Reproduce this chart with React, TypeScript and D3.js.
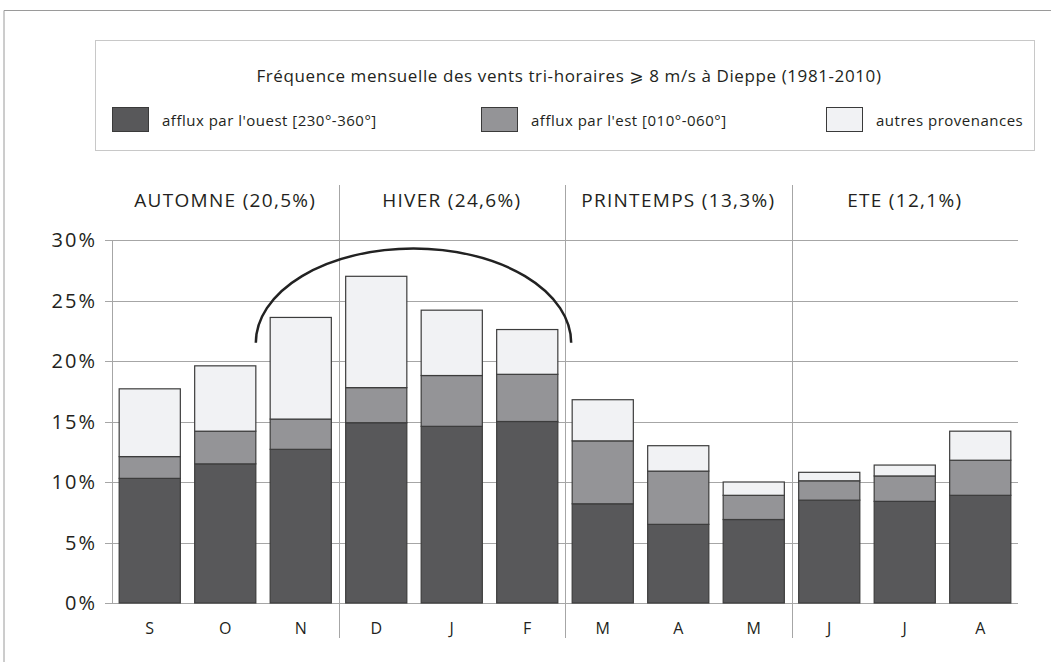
import React from 'react';
import * as d3 from 'd3';

const months = ['S', 'O', 'N', 'D', 'J', 'F', 'M', 'A', 'M', 'J', 'J', 'A'];
const ouest = [10.3, 11.5, 12.7, 14.9, 14.6, 15.0, 8.2, 6.5, 6.9, 8.5, 8.4, 8.9];
const est = [1.8, 2.7, 2.5, 2.9, 4.2, 3.9, 5.2, 4.4, 2.0, 1.6, 2.1, 2.9];
const autres = [5.6, 5.4, 8.4, 9.2, 5.4, 3.7, 3.4, 2.1, 1.1, 0.7, 0.9, 2.4];

const seasonNames = ['AUTOMNE', 'HIVER', 'PRINTEMPS', 'ETE'];
const seasonShares = ['20,5%', '24,6%', '13,3%', '12,1%'];

const yTicks = [0, 5, 10, 15, 20, 25, 30];

const seriesKeys = ['ouest', 'est', 'autres'];
const seriesLabels = ["afflux par l'ouest [230°-360°]", "afflux par l'est [010°-060°]", 'autres provenances'];
const seriesColors = ['#58585a', '#949497', '#f1f2f4'];

const W = 1051;
const H = 662;
const FONT = "'Open Sans', 'DejaVu Sans', sans-serif";

export default function App() {
	const x = d3.scaleBand<number>()
		.domain(d3.range(months.length))
		.range([112, 1018])
		.paddingInner(0.19)
		.paddingOuter(0.095);
	const y = d3.scaleLinear().domain([0, 30]).range([603, 240]);

	const rows = months.map((m, i) => ({ i, ouest: ouest[i], est: est[i], autres: autres[i] }));
	const stacked = d3.stack<any>().keys(seriesKeys)(rows);

	const step = x.step();
	const left = x.range()[0];
	const right = x.range()[1];
	const dividers = [1, 2, 3].map(k => left + k * 3 * step);

	// arc au-dessus de N-D-J-F
	const ax0 = (x(1) as number) + x.bandwidth();
	const ax1 = (x(6) as number) - 1;
	const ayBase = y(21.5);
	const ry = y(21.5) - y(29.3);
	const rx = (ax1 - ax0) / 2;
	const arcPath = `M${ax0},${ayBase} A${rx},${ry} 0 0 1 ${ax1},${ayBase}`;

	const legendX = [112, 481, 826];

	return (
		<svg width={W} height={H} style={{ position: 'absolute', left: 0, top: 0, background: '#fff' }} fontFamily={FONT}>
			{/* cadre */}
			<path d={`M4,${H} V10.5 H${W}`} fill="none" stroke="#9a9a9a" strokeWidth={1} />

			{/* légende */}
			<rect x={95.5} y={40.5} width={939} height={110} fill="#fff" stroke="#c8c8c8" strokeWidth={1} />
			<text x={569} y={82} textAnchor="middle" fontSize={17} letterSpacing={0.6} fill="#231f20">
				Fréquence mensuelle des vents tri-horaires ⩾ 8 m/s à Dieppe (1981-2010)
			</text>
			{seriesLabels.map((lab, k) => (
				<g key={lab}>
					<rect x={legendX[k] + 0.5} y={107.5} width={36} height={24} fill={seriesColors[k]} stroke="#3a3a3a" strokeWidth={1} />
					<text x={legendX[k] + 50} y={126} fontSize={15} letterSpacing={0.5} fill="#231f20">{lab}</text>
				</g>
			))}

			{/* grille */}
			{yTicks.map(t => (
				<g key={t}>
					<line x1={105} x2={right} y1={Math.round(y(t)) + 0.5} y2={Math.round(y(t)) + 0.5} stroke="#a6a6a6" strokeWidth={1} />
					<text x={97} y={y(t) + 7} textAnchor="end" fontSize={20} letterSpacing={2} fill="#231f20">{t}%</text>
				</g>
			))}
			<line x1={112.5} x2={112.5} y1={y(30)} y2={y(0)} stroke="#a6a6a6" strokeWidth={1} />

			{/* séparateurs de saisons */}
			{dividers.map(d => (
				<line key={d} x1={Math.round(d) + 0.5} x2={Math.round(d) + 0.5} y1={185} y2={638} stroke="#a6a6a6" strokeWidth={1} />
			))}
			{seasonNames.map((s, k) => (
				<text key={s} x={left + (k * 3 + 1.5) * step} y={207} textAnchor="middle" fontSize={19} letterSpacing={1.3} fill="#231f20">
					{`${s} (${seasonShares[k]})`}
				</text>
			))}

			{/* barres empilées */}
			{stacked.map((layer, k) => (
				<g key={layer.key} fill={seriesColors[k]} stroke="#3c3c3c" strokeWidth={1.2}>
					{layer.map((d, i) => (
						<rect key={i} x={x(i)} y={y(d[1])} width={x.bandwidth()} height={y(d[0]) - y(d[1])} />
					))}
				</g>
			))}

			{/* mois */}
			{months.map((m, i) => (
				<text key={i} x={(x(i) as number) + x.bandwidth() / 2} y={634} textAnchor="middle" fontSize={16} fill="#231f20">{m}</text>
			))}

			<path d={arcPath} fill="none" stroke="#222" strokeWidth={2.5} />
		</svg>
	);
}
